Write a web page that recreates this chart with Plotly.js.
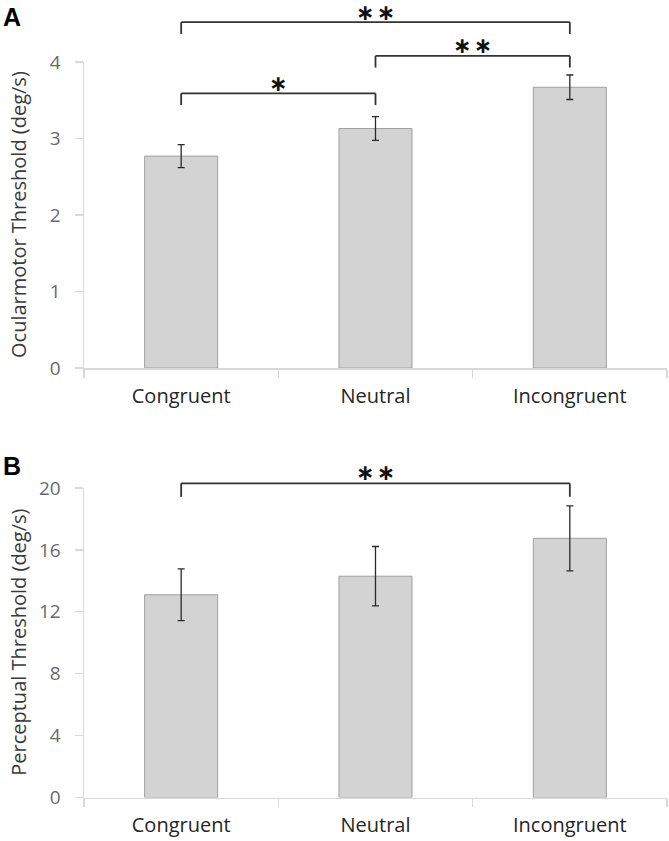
<!DOCTYPE html>
<html>
<head>
<meta charset="utf-8">
<script src="https://cdn.plot.ly/plotly-3.0.1.min.js"></script>
<style>html,body{margin:0;padding:0;background:#fff;}#chart{width:669px;height:841px;}</style>
</head>
<body>
<div id="chart"></div>
<script>
// ---- data ----
const categories = ["Congruent", "Neutral", "Incongruent"];
const oculomotorMean = [2.77, 3.13, 3.67];
const oculomotorErr = [0.15, 0.155, 0.16];
const perceptualMean = [13.1, 14.3, 16.75];
const perceptualErr = [1.67, 1.92, 2.1];
const ticksA = [0, 1, 2, 3, 4];
const ticksB = [0, 4, 8, 12, 16, 20];
// significance brackets: [from index, to index, level (data units), label]
const bracketsA = [[0, 2, 4.52, "∗\u200a∗"], [1, 2, 4.08, "∗\u200a∗"], [0, 1, 3.59, "∗"]];
const bracketsB = [[0, 2, 20.3, "∗\u200a∗"]];

const W = 669, H = 841;
const xDom = [84 / W, 667 / W];
const yDomA = [(H - 368) / H, (H - 62) / H];
const yDomB = [(H - 797.5) / H, (H - 488) / H];
const rangeA = [0, 4], rangeB = [0, 20];

const barStyle = {color: "#d3d3d3", line: {color: "#a0a0a0", width: 1}};
const errStyle = {type: "data", color: "#2a2a2a", thickness: 1.3, width: 3.5, visible: true};

const traces = [
  {type: "bar", x: categories, y: oculomotorMean, xaxis: "x", yaxis: "y",
   marker: barStyle, error_y: Object.assign({array: oculomotorErr}, errStyle), hoverinfo: "none"},
  {type: "bar", x: categories, y: perceptualMean, xaxis: "x2", yaxis: "y2",
   marker: barStyle, error_y: Object.assign({array: perceptualErr}, errStyle), hoverinfo: "none"}
];

const axisLine = "#d9d9d9";
const tickFont = {family: "Open Sans, sans-serif", size: 19, color: "#6a6a6a"};
const catFont = {family: "Open Sans, sans-serif", size: 20, color: "#262626"};

function xAxis(anchor) {
  return {domain: xDom, anchor: anchor, type: "category", range: [-0.5, 2.5],
    showline: true, linecolor: axisLine, linewidth: 1.5, showgrid: false, zeroline: false,
    ticks: "outside", tickson: "boundaries", ticklen: 8, tickcolor: axisLine, tickwidth: 1.2,
    tickfont: catFont, ticklabelstandoff: 9, fixedrange: true};
}
function yAxis(anchor, dom, range, tv) {
  return {domain: dom, anchor: anchor, range: range, tickvals: tv,
    showline: true, linecolor: axisLine, linewidth: 1.5, showgrid: false, zeroline: false,
    ticks: "outside", ticklen: 8, tickcolor: axisLine, tickwidth: 1.2,
    tickfont: tickFont, ticklabelstandoff: 10, fixedrange: true};
}

const shapes = [];
const annotations = [];
function addBrackets(list, xr, yr, range, drop, starGap) {
  const span = range[1] - range[0];
  list.forEach(b => {
    const x0 = categories[b[0]], x1 = categories[b[1]];
    const yTop = (b[2] - range[0]) / span;
    const yBot = (b[2] - drop - range[0]) / span;
    const ln = {color: "#333", width: 1.8};
    shapes.push({type: "line", xref: xr, yref: yr + " domain", x0: x0, x1: x0, y0: yBot, y1: yTop, line: ln});
    shapes.push({type: "line", xref: xr, yref: yr + " domain", x0: x0, x1: x1, y0: yTop, y1: yTop, line: ln});
    shapes.push({type: "line", xref: xr, yref: yr + " domain", x0: x1, x1: x1, y0: yBot, y1: yTop, line: ln});
    annotations.push({xref: xr, yref: yr + " domain", x: (b[0] + b[1]) / 2, y: yTop,
      yshift: starGap, text: "<b>" + b[3] + "</b>", showarrow: false, yanchor: "middle",
      font: {family: "DejaVu Sans", size: 22, color: "#111"}});
  });
}
addBrackets(bracketsA, "x", "y", rangeA, 0.153, 10);
addBrackets(bracketsB, "x2", "y2", rangeB, 0.87, 11);

// axis titles
annotations.push({xref: "paper", yref: "y domain", x: 19 / W, y: 0.5, textangle: -90,
  text: "Ocularmotor Threshold (deg/s)", showarrow: false, xanchor: "center", yanchor: "middle",
  font: {family: "Open Sans, sans-serif", size: 20, color: "#3a3a3a"}});
annotations.push({xref: "paper", yref: "y2 domain", x: 19 / W, y: 0.5, textangle: -90,
  text: "Perceptual Threshold (deg/s)", showarrow: false, xanchor: "center", yanchor: "middle",
  font: {family: "Open Sans, sans-serif", size: 20, color: "#3a3a3a"}});
// panel letters
annotations.push({xref: "paper", yref: "paper", x: 0.002, y: 1 - 17 / H, text: "<b>A</b>",
  showarrow: false, xanchor: "left", yanchor: "middle",
  font: {family: "Liberation Sans, Arial, sans-serif", size: 25, color: "#000"}});
annotations.push({xref: "paper", yref: "paper", x: 0.002, y: 1 - 466 / H, text: "<b>B</b>",
  showarrow: false, xanchor: "left", yanchor: "middle",
  font: {family: "Liberation Sans, Arial, sans-serif", size: 25, color: "#000"}});

const layout = {
  width: W, height: H, margin: {l: 0, r: 0, t: 0, b: 0},
  paper_bgcolor: "#fff", plot_bgcolor: "#fff", showlegend: false, bargap: 0.624,
  xaxis: xAxis("y"), yaxis: yAxis("x", yDomA, rangeA, ticksA),
  xaxis2: xAxis("y2"), yaxis2: yAxis("x2", yDomB, rangeB, ticksB),
  shapes: shapes, annotations: annotations
};

Plotly.newPlot("chart", traces, layout, {displayModeBar: false, staticPlot: true});
</script>
</body>
</html>
